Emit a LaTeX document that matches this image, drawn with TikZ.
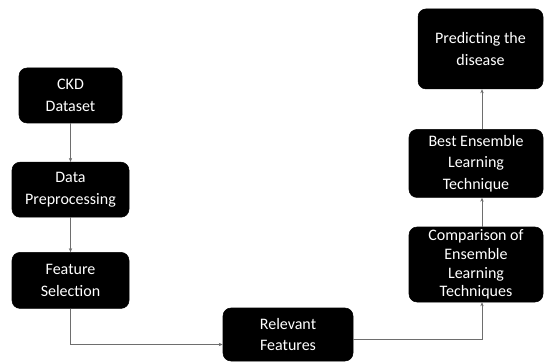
\documentclass[tikz,border=0pt]{standalone}
\usepackage{fontspec}
\setmainfont{Carlito}
\usepackage{tikz}
\usetikzlibrary{arrows.meta,positioning}
\definecolor{linegray}{HTML}{6E6E6E}
\tikzset{
  stagebox/.style={
    rectangle, rounded corners=6pt, draw=black, fill=black, text=white,
    minimum width=#1, minimum height=41.25pt,
    font=\fontsize{12}{16}\selectfont, align=center,
    inner sep=2pt
  },
  stagebox/.default=87.75pt,
  flowarrow/.style={
    -{Stealth[length=3pt,width=2.5pt]}, line width=0.6pt, color=linegray
  },
}
\begin{document}
\begin{tikzpicture}[x=0.75pt,y=-0.75pt]
  \useasboundingbox (0,0) rectangle (545,363);
  % left column
  \node[stagebox=77.25pt] (ckd) at (70.5,95.5) {CKD\\Dataset};
  \node[stagebox, below=29pt of ckd] (prep) {Data\\Preprocessing};
  \node[stagebox, below=26pt of prep, minimum height=42pt] (feat) {Feature\\Selection};
  % bottom
  \node[stagebox=97.5pt, minimum height=39.75pt] (rel) at (288,334.5) {Relevant\\Features};
  % right column
  \node[stagebox=100.5pt, minimum height=56.25pt, inner sep=0pt,
        font=\fontsize{12}{14}\selectfont] (comp) at (476,264.5)
        {Comparison of\\Ensemble\\Learning\\Techniques};
  \node[stagebox=100.5pt, minimum height=51pt, above=21.75pt of comp] (best)
        {Best Ensemble\\Learning\\Technique};
  \node[stagebox=93.75pt, minimum height=60pt, above=30pt of best, xshift=3.4pt] (pred)
        {Predicting the\\disease};
  % connectors
  \draw[flowarrow] (ckd) -- (ckd |- prep.north);
  \draw[flowarrow] (prep) -- (prep.south |- feat.north);
  \draw[flowarrow] (feat.south) |- ([yshift=-7.5pt]rel.west);
  \draw[flowarrow] ([yshift=-4pt]rel.east) -| ([xshift=4.5pt]comp.south);
  \draw[flowarrow] ([xshift=4.5pt]comp.north) -- ([xshift=4.5pt]best.south);
  \draw[flowarrow] ([xshift=4.5pt]best.north) -- ([xshift=4.5pt]best.north |- pred.south);
\end{tikzpicture}
\end{document}
